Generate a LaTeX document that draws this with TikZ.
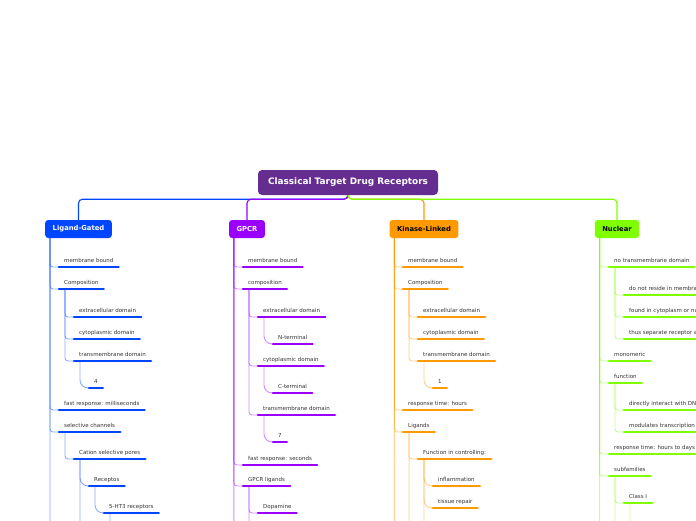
\documentclass[tikz,border=0pt]{standalone}
\usepackage{fontspec}
\setmainfont{DejaVu Sans}
\definecolor{maproot}{RGB}{102,45,145}
\definecolor{mapblue}{RGB}{0,70,255}
\definecolor{mappurple}{RGB}{153,0,255}
\definecolor{maporange}{RGB}{255,153,0}
\definecolor{mapgreen}{RGB}{128,255,0}
\definecolor{mapink}{RGB}{51,51,51}
\tikzset{
  rootbox/.style={
    fill=maproot,
    rounded corners=4pt,
    minimum width=180pt,
    minimum height=25pt,
    text=white,
    font=\fontsize{8.9}{10}\selectfont\bfseries
  },
  topicbox/.style={
    fill=#1,
    rounded corners=3pt,
    minimum height=18pt,
    inner xsep=7.5pt,
    font=\fontsize{6.8}{8}\selectfont\bfseries
  },
  bar/.style={draw=#1, line width=2.6pt, line cap=round},
  leaf/.style={
    anchor=south west,
    inner xsep=5pt,
    inner ysep=2.5pt,
    text height=4pt,
    text depth=1.5pt,
    text=mapink,
    font=\fontsize{5.5}{6.5}\selectfont,
    append after command={(\tikzlastnode.south west) edge[bar=#1] (\tikzlastnode.south east)}
  },
  stem/.style={draw=#1, line width=1.1pt, rounded corners=4pt},
  twig/.style={draw=#1, draw opacity=0.45, line width=0.9pt, rounded corners=3pt},
  curl/.style={twig=#1, rounded corners=8pt}
}

\begin{document}
\begin{tikzpicture}[x=1pt,y=-1pt]
  \useasboundingbox (0,0) rectangle (696,520);
  \fill[white] (0,0) rectangle (696,520);
  \clip (0,0) rectangle (696,520);

  \node[rootbox] (title) at (348,182.5) {Classical Target Drug Receptors};
  \node[topicbox=mapblue, text=white] (lig) at (78.5,229) {Ligand-Gated};
  \node[topicbox=mappurple, text=white] (gpcr) at (247,229) {GPCR};
  \node[topicbox=maporange, text=black] (kin) at (424,229) {Kinase-Linked};
  \node[topicbox=mapgreen, text=black] (nuc) at (617,229) {Nuclear};

  % ligand-gated
  \node[leaf=mapblue] (lmem) at (59,267) {membrane bound};
  \node[leaf=mapblue] (lcomp) at (59,289) {Composition};
  \node[leaf=mapblue] (lext) at (74,317) {extracellular domain};
  \node[leaf=mapblue] (lcyt) at (74,339) {cytoplasmic domain};
  \node[leaf=mapblue] (ltm) at (74,361) {transmembrane domain};
  \node[leaf=mapblue] (ltmn) at (89,388) {4};
  \node[leaf=mapblue] (lfast) at (59,410) {fast response: milliseconds};
  \node[leaf=mapblue] (lsel) at (59,432) {selective channels};
  \node[leaf=mapblue] (lcat) at (74,459) {Cation selective pores};
  \node[leaf=mapblue] (lrec) at (89,486) {Receptos};
  \node[leaf=mapblue] (lht) at (104,513) {5-HT3 receptors};
  \coordinate (lmore) at (59,560);
  \coordinate (lcatmore) at (89,560);
  \coordinate (lhtmore) at (119,560);

  % gpcr
  \node[leaf=mappurple] (gmem) at (243,267) {membrane bound};
  \node[leaf=mappurple] (gcomp) at (243,289) {composition};
  \node[leaf=mappurple] (gext) at (258,317) {extracellular domain};
  \node[leaf=mappurple] (gnt) at (273,344) {N-terminal};
  \node[leaf=mappurple] (gcyt) at (258,366) {cytoplasmic domain};
  \node[leaf=mappurple] (gct) at (273,393) {C-terminal};
  \node[leaf=mappurple] (gtm) at (258,415) {transmembrane domain};
  \node[leaf=mappurple] (gtmn) at (273,442) {7};
  \node[leaf=mappurple] (gfast) at (243,465) {fast response: seconds};
  \node[leaf=mappurple] (glig) at (243,486) {GPCR ligands};
  \node[leaf=mappurple] (gdop) at (258,513) {Dopamine};
  \coordinate (gmore) at (243,560);
  \coordinate (gligmore) at (258,560);

  % kinase-linked
  \node[leaf=maporange] (kmem) at (403,267) {membrane bound};
  \node[leaf=maporange] (kcomp) at (403,289) {Composition};
  \node[leaf=maporange] (kext) at (418,317) {extracellular domain};
  \node[leaf=maporange] (kcyt) at (418,339) {cytoplasmic domain};
  \node[leaf=maporange] (ktm) at (418,361) {transmembrane domain};
  \node[leaf=maporange] (ktmn) at (433,388) {1};
  \node[leaf=maporange] (ktime) at (403,410) {response time: hours};
  \node[leaf=maporange] (klig) at (403,432) {Ligands};
  \node[leaf=maporange] (kfun) at (418,459) {Function in controlling:};
  \node[leaf=maporange] (kinf) at (433,486) {inflammation};
  \node[leaf=maporange] (krep) at (433,508) {tissue repair};
  \coordinate (kmore) at (403,560);
  \coordinate (kligmore) at (418,560);
  \coordinate (kfunmore) at (433,560);

  % nuclear
  \node[leaf=mapgreen] (nnotm) at (609,267) {no transmembrane domain};
  \node[leaf=mapgreen] (nres) at (624,295) {do not reside in membrane};
  \node[leaf=mapgreen] (nfound) at (624,317) {found in cytoplasm or nucleus};
  \node[leaf=mapgreen] (nsep) at (624,339) {thus separate receptor and};
  \node[leaf=mapgreen] (nmono) at (609,361) {monomeric};
  \node[leaf=mapgreen] (nfun) at (609,383) {function};
  \node[leaf=mapgreen] (ndna) at (624,410) {directly interact with DNA};
  \node[leaf=mapgreen] (ntrans) at (624,432) {modulates transcription};
  \node[leaf=mapgreen] (ntime) at (609,454) {response time: hours to days};
  \node[leaf=mapgreen] (nsub) at (609,476) {subfamilies};
  \node[leaf=mapgreen] (ncls) at (624,503) {Class I};
  \coordinate (nmore) at (609,560);
  \coordinate (nsubmore) at (624,560);
  \coordinate (nclsmore) at (639,560);

  % main branches
  \draw[stem=mapblue] (title.south) -- ++(0,4) -| (lig.north);
  \draw[stem=mappurple] (title.south) -- ++(0,4) -| (gpcr.north);
  \draw[stem=maporange] (title.south) -- ++(0,4) -| (kin.north);
  \draw[stem=mapgreen] (title.south) -- ++(0,4) -| (nuc.north);

  % ligand-gated twigs
  \draw[twig=mapblue] ([xshift=5pt]lig.south west) |- (lmem.south west);
  \draw[twig=mapblue] ([xshift=5pt]lig.south west) |- (lcomp.south west);
  \draw[twig=mapblue] ([xshift=5pt]lig.south west) |- (lfast.south west);
  \draw[twig=mapblue] ([xshift=5pt]lig.south west) |- (lsel.south west);
  \draw[twig=mapblue] ([xshift=5pt]lig.south west) |- (lmore);
  \draw[twig=mapblue] ([xshift=6pt]lcomp.south west) |- (lext.south west);
  \draw[twig=mapblue] ([xshift=6pt]lcomp.south west) |- (lcyt.south west);
  \draw[twig=mapblue] ([xshift=6pt]lcomp.south west) |- (ltm.south west);
  \draw[curl=mapblue] ([xshift=6pt]ltm.south west) |- (ltmn.south west);
  \draw[twig=mapblue] ([xshift=6pt]lsel.south west) |- (lcat.south west);
  \draw[curl=mapblue] ([xshift=6pt]lcat.south west) |- (lrec.south west);
  \draw[twig=mapblue] ([xshift=6pt]lcat.south west) |- (lcatmore);
  \draw[curl=mapblue] ([xshift=6pt]lrec.south west) |- (lht.south west);
  \draw[twig=mapblue] ([xshift=6pt]lht.south west) |- (lhtmore);

  % gpcr twigs
  \draw[twig=mappurple] ([xshift=5pt]gpcr.south west) |- (gmem.south west);
  \draw[twig=mappurple] ([xshift=5pt]gpcr.south west) |- (gcomp.south west);
  \draw[twig=mappurple] ([xshift=5pt]gpcr.south west) |- (gfast.south west);
  \draw[twig=mappurple] ([xshift=5pt]gpcr.south west) |- (glig.south west);
  \draw[twig=mappurple] ([xshift=5pt]gpcr.south west) |- (gmore);
  \draw[twig=mappurple] ([xshift=6pt]gcomp.south west) |- (gext.south west);
  \draw[twig=mappurple] ([xshift=6pt]gcomp.south west) |- (gcyt.south west);
  \draw[twig=mappurple] ([xshift=6pt]gcomp.south west) |- (gtm.south west);
  \draw[curl=mappurple] ([xshift=6pt]gext.south west) |- (gnt.south west);
  \draw[curl=mappurple] ([xshift=6pt]gcyt.south west) |- (gct.south west);
  \draw[curl=mappurple] ([xshift=6pt]gtm.south west) |- (gtmn.south west);
  \draw[twig=mappurple] ([xshift=6pt]glig.south west) |- (gdop.south west);
  \draw[twig=mappurple] ([xshift=6pt]glig.south west) |- (gligmore);

  % kinase-linked twigs
  \draw[twig=maporange] ([xshift=5pt]kin.south west) |- (kmem.south west);
  \draw[twig=maporange] ([xshift=5pt]kin.south west) |- (kcomp.south west);
  \draw[twig=maporange] ([xshift=5pt]kin.south west) |- (ktime.south west);
  \draw[twig=maporange] ([xshift=5pt]kin.south west) |- (klig.south west);
  \draw[twig=maporange] ([xshift=5pt]kin.south west) |- (kmore);
  \draw[twig=maporange] ([xshift=6pt]kcomp.south west) |- (kext.south west);
  \draw[twig=maporange] ([xshift=6pt]kcomp.south west) |- (kcyt.south west);
  \draw[twig=maporange] ([xshift=6pt]kcomp.south west) |- (ktm.south west);
  \draw[curl=maporange] ([xshift=6pt]ktm.south west) |- (ktmn.south west);
  \draw[twig=maporange] ([xshift=6pt]klig.south west) |- (kfun.south west);
  \draw[twig=maporange] ([xshift=6pt]klig.south west) |- (kligmore);
  \draw[curl=maporange] ([xshift=6pt]kfun.south west) |- (kinf.south west);
  \draw[curl=maporange] ([xshift=6pt]kfun.south west) |- (krep.south west);
  \draw[twig=maporange] ([xshift=6pt]kfun.south west) |- (kfunmore);

  % nuclear twigs
  \draw[twig=mapgreen] ([xshift=5pt]nuc.south west) |- (nnotm.south west);
  \draw[twig=mapgreen] ([xshift=5pt]nuc.south west) |- (nmono.south west);
  \draw[twig=mapgreen] ([xshift=5pt]nuc.south west) |- (nfun.south west);
  \draw[twig=mapgreen] ([xshift=5pt]nuc.south west) |- (ntime.south west);
  \draw[twig=mapgreen] ([xshift=5pt]nuc.south west) |- (nsub.south west);
  \draw[twig=mapgreen] ([xshift=5pt]nuc.south west) |- (nmore);
  \draw[twig=mapgreen] ([xshift=6pt]nnotm.south west) |- (nres.south west);
  \draw[twig=mapgreen] ([xshift=6pt]nnotm.south west) |- (nfound.south west);
  \draw[twig=mapgreen] ([xshift=6pt]nnotm.south west) |- (nsep.south west);
  \draw[twig=mapgreen] ([xshift=6pt]nfun.south west) |- (ndna.south west);
  \draw[twig=mapgreen] ([xshift=6pt]nfun.south west) |- (ntrans.south west);
  \draw[twig=mapgreen] ([xshift=6pt]nsub.south west) |- (ncls.south west);
  \draw[twig=mapgreen] ([xshift=6pt]nsub.south west) |- (nsubmore);
  \draw[twig=mapgreen] ([xshift=6pt]ncls.south west) |- (nclsmore);
\end{tikzpicture}
\end{document}
